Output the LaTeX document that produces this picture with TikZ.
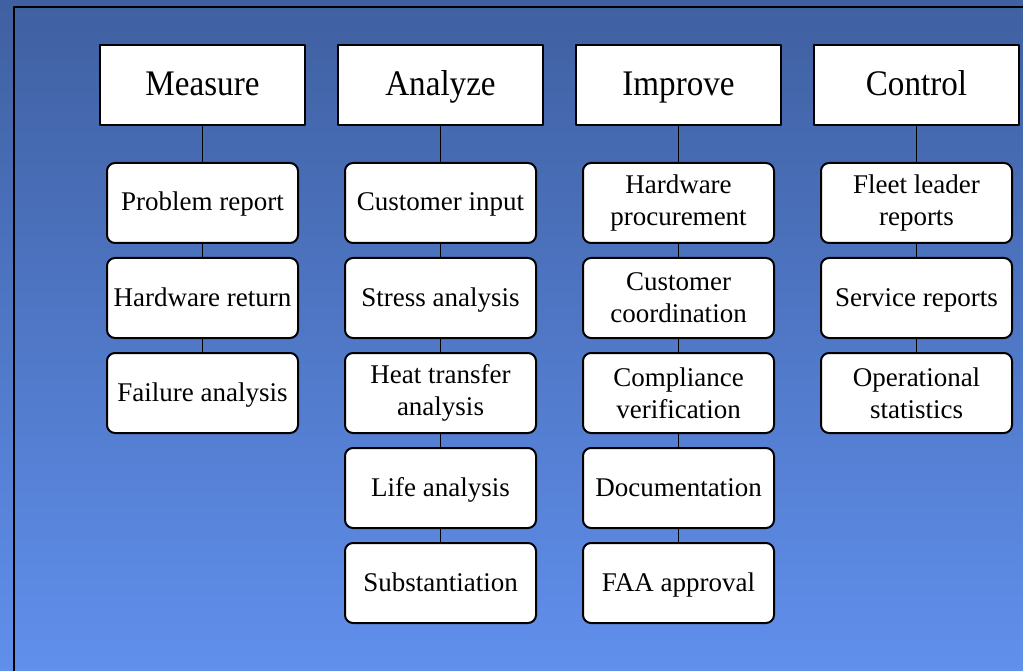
\documentclass[tikz,border=0pt]{standalone}
\usepackage{fontspec}
\setmainfont{Liberation Serif}
\newfontfamily\headfont{Liberation Serif}[FakeStretch=0.92]
\usetikzlibrary{positioning}
\definecolor{bgtop}{RGB}{63,96,161}
\definecolor{bgbottom}{RGB}{96,143,236}
\begin{document}
\begin{tikzpicture}[x=1pt,y=-1pt,
    phase/.style={draw,fill=white,line width=2pt,minimum width=205pt,minimum height=80pt,inner sep=0pt,text height=26pt,text depth=4pt,font=\headfont\fontsize{36}{40}\selectfont},
    task/.style={draw,fill=white,rounded corners=8pt,line width=2pt,minimum width=191pt,minimum height=80pt,inner sep=0pt,align=center,font=\fontsize{27}{32}\selectfont},
    oneline/.style={task,text height=22pt,text depth=6pt},
    link/.style={line width=1.5pt},
    node distance=13pt, line join=round]
      \useasboundingbox (0,0) rectangle (1023,671);
      \shade [top color=bgtop, bottom color=bgbottom] (0,0) rectangle (1023,671);
      \draw [line width=2pt] (13.5,672) -- (13.5,7.5) -- (1024,7.5);

      \coordinate (m) at (202.5,85);
      \coordinate (a) at (440.5,85);
      \coordinate (i) at (678.5,85);
      \coordinate (c) at (916.5,85);

      % Measure
      \node [phase] (m0) at (m) {Measure};
      \node [oneline, below=36pt of m0] (m1) {Problem report};
      \node [oneline, below=of m1] (m2) {Hardware return};
      \node [oneline, below=of m2] (m3) {Failure analysis};

      % Analyze
      \node [phase] (a0) at (a) {Analyze};
      \node [oneline, below=36pt of a0] (a1) {Customer input};
      \node [oneline, below=of a1] (a2) {Stress analysis};
      \node [task, below=of a2] (a3) {Heat transfer\\analysis};
      \node [oneline, below=of a3] (a4) {Life analysis};
      \node [oneline, below=of a4] (a5) {Substantiation};

      % Improve
      \node [phase] (i0) at (i) {Improve};
      \node [task, below=36pt of i0] (i1) {Hardware\\procurement};
      \node [task, below=of i1] (i2) {Customer\\coordination};
      \node [task, below=of i2] (i3) {Compliance\\verification};
      \node [oneline, below=of i3] (i4) {Documentation};
      \node [oneline, below=of i4] (i5) {FAA approval};

      % Control
      \node [phase] (c0) at (c) {Control};
      \node [task, below=36pt of c0] (c1) {Fleet leader\\reports};
      \node [oneline, below=of c1] (c2) {Service reports};
      \node [task, below=of c2] (c3) {Operational\\statistics};

      \draw [link] (m0) -- (m1) (m1) -- (m2) (m2) -- (m3);
      \draw [link] (a0) -- (a1) (a1) -- (a2) (a2) -- (a3) (a3) -- (a4) (a4) -- (a5);
      \draw [link] (i0) -- (i1) (i1) -- (i2) (i2) -- (i3) (i3) -- (i4) (i4) -- (i5);
      \draw [link] (c0) -- (c1) (c1) -- (c2) (c2) -- (c3);
    \end{tikzpicture}
\end{document}
